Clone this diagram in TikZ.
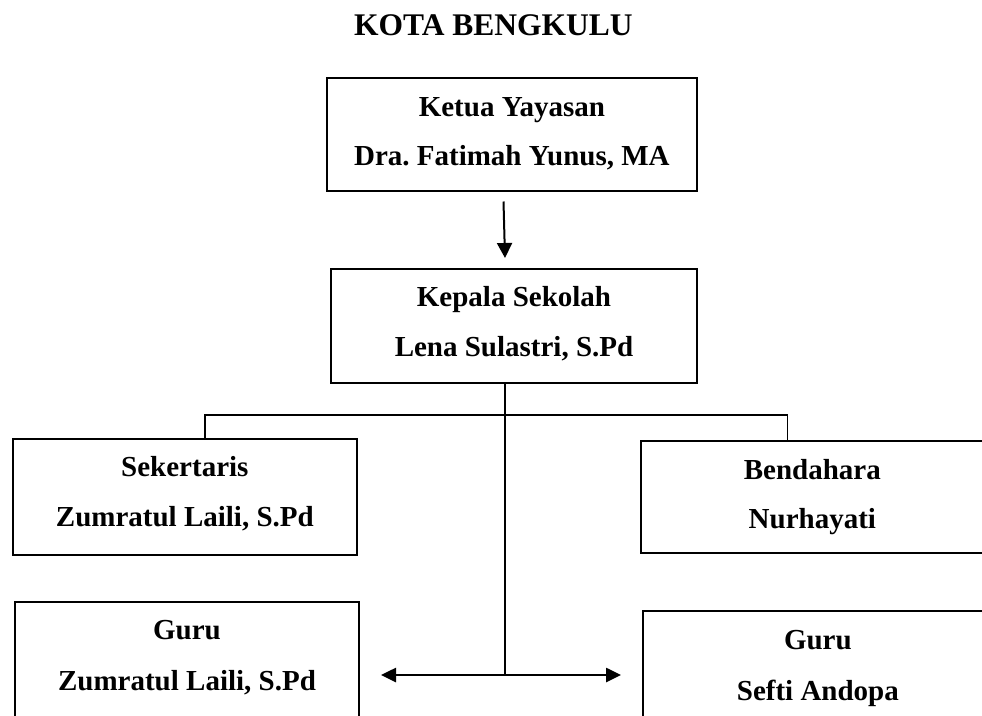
\documentclass[tikz,border=0pt]{standalone}
\usepackage{fontspec}
\setmainfont{Liberation Serif}
\usetikzlibrary{arrows.meta,calc}
\frenchspacing
\begin{document}
\begin{tikzpicture}[x=1pt,y=-1pt,
  box/.style={draw,line width=2pt,inner sep=0pt,outer sep=0pt,anchor=north west},
  lbl/.style={anchor=base,inner sep=0pt,font=\fontsize{29pt}{35pt}\selectfont\bfseries},
  ttl/.style={anchor=base,inner sep=0pt,font=\fontsize{31.5pt}{38pt}\selectfont\bfseries},
  conn/.style={line width=1.5pt},
  downarrow/.style={line width=2pt,-{Triangle[length=15pt,width=15pt]}},
  twoarrow/.style={line width=2.6pt,{Triangle[length=15pt,width=14pt]}-{Triangle[length=15pt,width=14pt]}}]
\useasboundingbox (0,0) rectangle (982,715);
\clip (0,0) rectangle (982,715);

% title
\node[ttl] (title) at (493.4,35.7) {KOTA BENGKULU};

% boxes
\node[box,minimum width=370.3pt,minimum height=112.7pt] (yay) at (326.7,78) {};
\node[box,minimum width=366pt,minimum height=113.7pt] (kep) at (331,269) {};
\node[box,minimum width=344.3pt,minimum height=116pt] (sek) at (12.7,439) {};
\node[box,minimum width=343.3pt,minimum height=112.3pt] (ben) at (640.7,440.7) {};
\node[box,minimum width=344pt,minimum height=125pt] (gl) at (15,601.7) {};
\node[box,minimum width=350.3pt,minimum height=125pt] (gr) at (642.7,611) {};

% labels
\node[lbl] (yay1) at ($(yay.north)+(0,38.5)$) {Ketua Yayasan};
\node[lbl] (yay2) at ($(yay.north)+(0,87)$) {Dra. Fatimah Yunus, MA};
\node[lbl] (kep1) at ($(kep.north)+(0,37.7)$) {Kepala Sekolah};
\node[lbl] (kep2) at ($(kep.north)+(0,87)$) {Lena Sulastri, S.Pd};
\node[lbl] (sek1) at ($(sek.north)+(0,37)$) {Sekertaris};
\node[lbl] (sek2) at ($(sek.north)+(0,87.7)$) {Zumratul Laili, S.Pd};
\node[lbl] (ben1) at ($(ben.north)+(0,39)$) {Bendahara};
\node[lbl] (ben2) at ($(ben.north)+(0,87.3)$) {Nurhayati};
\node[lbl] (gl1) at ($(gl.north)+(0,37.3)$) {Guru};
\node[lbl] (gl2) at ($(gl.north)+(0,88.3)$) {Zumratul Laili, S.Pd};
\node[lbl] (gr1) at ($(gr.north)+(0,38)$) {Guru};
\node[lbl] (gr2) at ($(gr.north)+(0,89)$) {Sefti Andopa};

% connector coordinates
\coordinate (a0) at (503.5,201.5);
\coordinate (a1) at (505,258);
\coordinate (hub) at (505,675);
\coordinate (bl) at (205,415);
\coordinate (br) at (787.3,415);
\coordinate (la) at (381,675);
\coordinate (ra) at (621,675);

% connectors
\draw[downarrow] (a0) -- (a1);
\draw[conn] (kep.south -| hub) -- (hub);
\draw[conn] (sek.north -| bl) -- (bl) -- (br) -- (ben.north -| br);
\draw[twoarrow] (la) -- (ra);
\end{tikzpicture}
\end{document}
